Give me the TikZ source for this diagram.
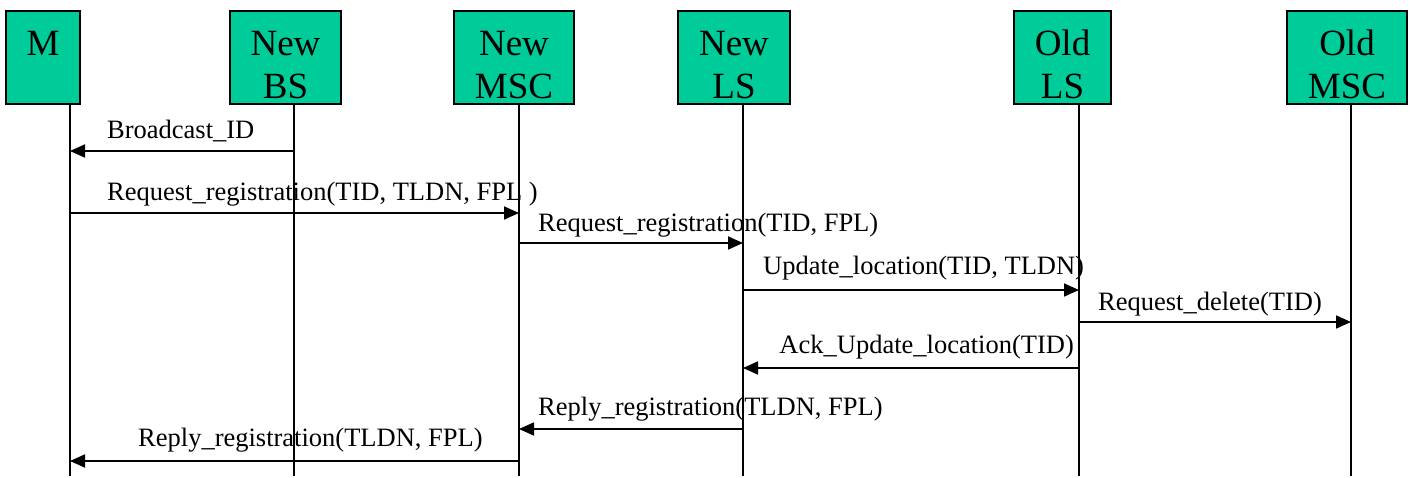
\documentclass[tikz,border=0pt]{standalone}
\usepackage{fontspec}
\setmainfont{Liberation Serif}
\usetikzlibrary{arrows.meta}
\definecolor{boxgreen}{RGB}{0,204,153}
\tikzset{
  actor/.style={draw=black, fill=boxgreen, line width=1.4pt, rectangle, inner sep=0pt},
  actortext/.style={font=\fontsize{37}{43}\selectfont, anchor=base, inner sep=0pt},
  lifeline/.style={line width=1.5pt},
  msg/.style={line width=1.8pt, -{Triangle[length=15pt,width=13pt]}},
  msgtext/.style={font=\fontsize{26.5}{30}\selectfont, inner sep=0pt}
}
\begin{document}
\begin{tikzpicture}[x=1pt,y=-1pt]
\useasboundingbox (0,0) rectangle (1414,478);
% boxes
\node[actor, minimum width=74pt, minimum height=93pt] (M) at (43,57.5) {};
\node[actor, minimum width=111pt, minimum height=93pt] (BS) at (285.5,57.5) {};
\node[actor, minimum width=120pt, minimum height=93pt] (NMSC) at (514,57.5) {};
\node[actor, minimum width=112pt, minimum height=93pt] (NLS) at (734,57.5) {};
\node[actor, minimum width=97pt, minimum height=93pt] (OLS) at (1062.5,57.5) {};
\node[actor, minimum width=120pt, minimum height=93pt] (OMSC) at (1347,57.5) {};
% box texts
\node[actortext] (Mt) at (43,56) {M};
\node[actortext] (BSt1) at (285.5,56) {New};
\node[actortext] (BSt2) at (285.5,99) {BS};
\node[actortext] (NMSCt1) at (514,56) {New};
\node[actortext] (NMSCt2) at (514,99) {MSC};
\node[actortext] (NLSt1) at (734,56) {New};
\node[actortext] (NLSt2) at (734,99) {LS};
\node[actortext] (OLSt1) at (1062.5,56) {Old};
\node[actortext] (OLSt2) at (1062.5,99) {LS};
\node[actortext] (OMSCt1) at (1347,56) {Old};
\node[actortext] (OMSCt2) at (1347,99) {MSC};
% lifelines
\coordinate (lM) at (70,104);
\coordinate (lBS) at (294,104);
\coordinate (lNMSC) at (519,104);
\coordinate (lNLS) at (743,104);
\coordinate (lOLS) at (1079,104);
\coordinate (lOMSC) at (1351,104);
\foreach \l in {lM,lBS,lNMSC,lNLS,lOLS,lOMSC}
  \draw[lifeline] (\l) -- (\l |- 0,476);
% messages
\draw[msg] (lBS |- 0,151) -- (lM |- 0,151);
\node[msgtext, anchor=base west] (m1) at (107,139) {Broadcast\_ID};
\draw[msg] (lM |- 0,213) -- (lNMSC |- 0,213);
\node[msgtext, anchor=base west] (m2) at (107,201) {Request\_registration(TID, TLDN, FPL )};
\draw[msg] (lNMSC |- 0,243) -- (lNLS |- 0,243);
\node[msgtext, anchor=base west] (m3) at (538,232) {Request\_registration(TID, FPL)};
\draw[msg] (lNLS |- 0,290) -- (lOLS |- 0,290);
\node[msgtext, anchor=base west] (m4) at (763,275) {Update\_location(TID, TLDN)};
\draw[msg] (lOLS |- 0,322) -- (lOMSC |- 0,322);
\node[msgtext, anchor=base west] (m5) at (1098,311) {Request\_delete(TID)};
\draw[msg] (lOLS |- 0,368) -- (lNLS |- 0,368);
\node[msgtext, anchor=base east] (m6) at (1074,354) {Ack\_Update\_location(TID)};
\draw[msg] (lNLS |- 0,429) -- (lNMSC |- 0,429);
\node[msgtext, anchor=base west] (m7) at (538,415) {Reply\_registration(TLDN, FPL)};
\draw[msg] (lNMSC |- 0,461) -- (lM |- 0,461);
\node[msgtext, anchor=base west] (m8) at (138,446) {Reply\_registration(TLDN, FPL)};
\end{tikzpicture}
\end{document}
